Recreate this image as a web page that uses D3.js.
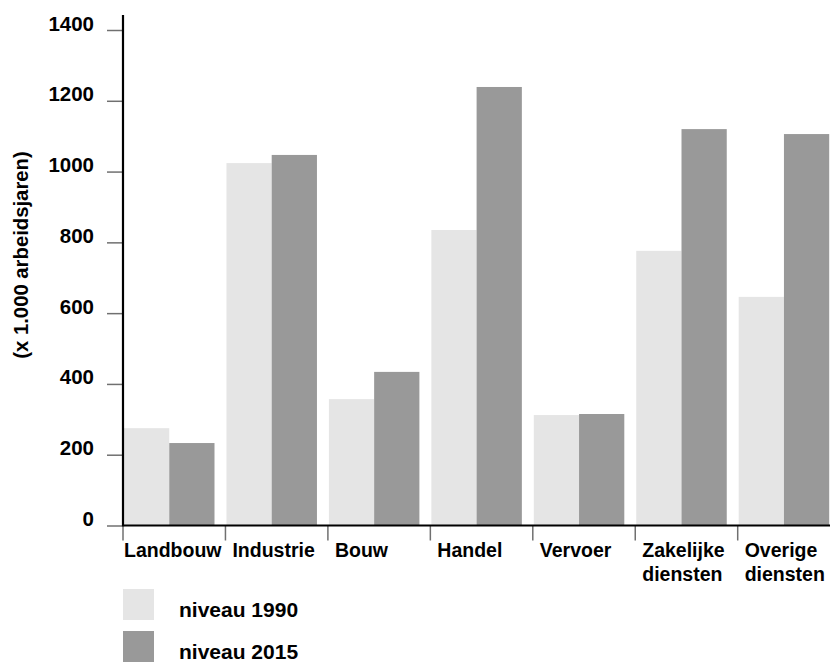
<!DOCTYPE html>
<html>
<head>
<meta charset="utf-8">
<script src="https://cdn.jsdelivr.net/npm/d3@7"></script>
<style>
  html, body { margin: 0; padding: 0; background: #fff; }
  svg { display: block; }
  text { font-family: "Liberation Sans", Arial, Helvetica, sans-serif; font-weight: bold; fill: #000; }
</style>
</head>
<body>
<svg id="chart" width="830" height="662"></svg>
<script>
const categories = [["Landbouw"], ["Industrie"], ["Bouw"], ["Handel"], ["Vervoer"], ["Zakelijke", "diensten"], ["Overige", "diensten"]];
const seriesNames = ["niveau 1990", "niveau 2015"];
const values1990 = [275, 1024, 357, 835, 312, 776, 646];
const values2015 = [233, 1047, 434, 1239, 315, 1120, 1106];
const yTicks = [0, 200, 400, 600, 800, 1000, 1200, 1400];
const yTitle = "(x 1.000 arbeidsjaren)";
const colors = ["#e5e5e5", "#999999"];

const svg = d3.select("#chart");
const keys = categories.map((c, i) => i);
const series = [values1990, values2015];

const x0 = d3.scaleBand().domain(keys).range([123, 123 + 7 * 102.45]).paddingInner(0).paddingOuter(0);
const x1 = d3.scaleBand().domain([0, 1]).range([1, 91.5]).padding(0);
const y = d3.scaleLinear().domain([0, 1400]).range([525.5, 30]);

// bars
const groups = svg.append("g").selectAll("g").data(keys).join("g")
  .attr("transform", d => `translate(${x0(d)},0)`);
groups.selectAll("rect").data(d => series.map((s, si) => ({si, v: s[d]}))).join("rect")
  .attr("x", d => x1(d.si))
  .attr("width", x1.bandwidth())
  .attr("y", d => y(d.v))
  .attr("height", d => y(0) - y(d.v))
  .attr("fill", d => colors[d.si]);

// y axis
const yAxis = d3.axisLeft(y).tickValues(yTicks).tickSize(15).tickPadding(0).tickFormat(d3.format("d"));
const gy = svg.append("g").attr("transform", "translate(122,0)").call(yAxis);
gy.select(".domain").remove();
gy.selectAll(".tick line").attr("stroke", "#707070").attr("stroke-width", 1.5);
gy.selectAll(".tick text")
  .attr("x", -28).attr("dy", "0.0em")
  .attr("text-anchor", "end")
  .style("font-size", "20.5px").style("font-family", "'Liberation Sans', Arial, sans-serif").style("font-weight", "bold").attr("fill", "#000");
svg.append("line").attr("x1", 123).attr("x2", 123).attr("y1", 15).attr("y2", 526.5)
  .attr("stroke", "#000").attr("stroke-width", 2.2);

// x axis
const xAxis = d3.axisBottom(x0).tickSize(15).tickFormat("");
const gx = svg.append("g").attr("transform", "translate(0,525.5)").call(xAxis);
gx.select(".domain").remove();
gx.selectAll(".tick line").attr("transform", function(d) { return `translate(${-x0.bandwidth() / 2},0)`; })
  .attr("stroke", "#707070").attr("stroke-width", 1.5);
svg.append("line").attr("x1", 122).attr("x2", 830).attr("y1", 525.5).attr("y2", 525.5)
  .attr("stroke", "#000").attr("stroke-width", 2.2);

// category labels
const labels = svg.append("g").selectAll("text").data(keys).join("text")
  .attr("x", d => x0(d) + (d === 0 ? 1 : 7))
  .attr("y", 557)
  .style("font-size", "19.5px");
labels.selectAll("tspan").data(d => categories[d].map((t, li) => ({t, li, d}))).join("tspan")
  .attr("x", o => x0(o.d) + (o.d === 0 ? 1 : 7))
  .attr("dy", o => o.li === 0 ? 0 : 23.5)
  .text(o => o.t);

// y title
svg.append("text")
  .attr("transform", "translate(28,255) rotate(-90)")
  .attr("text-anchor", "middle")
  .style("font-size", "20.3px")
  .text(yTitle);

// legend
const legend = svg.append("g").selectAll("g").data(seriesNames).join("g")
  .attr("transform", (d, i) => `translate(123,${589 + i * 42})`);
legend.append("rect").attr("width", 31).attr("height", 31).attr("fill", (d, i) => colors[i]);
legend.append("text").attr("x", 56).attr("y", 28).style("font-size", "21px").text(d => d);
</script>
</body>
</html>
